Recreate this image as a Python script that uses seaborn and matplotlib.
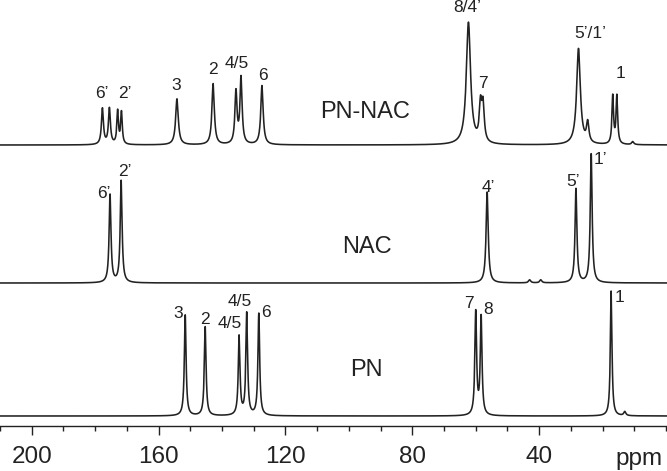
import numpy as np
import pandas as pd
import matplotlib
matplotlib.use("Agg")
import matplotlib.pyplot as plt
import seaborn as sns

# ---------------- data ----------------
# peak lists: chemical shift (ppm), intensity, line width (ppm FWHM)
pn_nac_ppm = [177.7, 175.5, 172.9, 171.7, 154.2, 142.8, 135.6, 134.0, 127.4,
              62.3, 58.5, 57.7, 27.6, 24.7, 16.8, 15.5, 10.5]
pn_nac_int = [36, 36, 33, 32, 46, 61, 52, 66, 59,
              122, 36, 36, 96, 20, 48, 48, 3]
pn_nac_fwhm = [0.75, 0.75, 0.6, 0.6, 1.0, 0.9, 0.8, 0.8, 0.9,
               1.6, 0.9, 0.9, 1.4, 0.9, 0.6, 0.6, 0.8]

nac_ppm = [175.3, 171.8, 56.4, 43.0, 39.5, 28.4, 23.6]
nac_int = [88, 102, 91, 3, 3, 94, 129]
nac_fwhm = [0.7, 0.7, 0.8, 0.8, 0.8, 0.7, 0.7]

pn_ppm = [151.6, 145.3, 134.6, 132.2, 128.4, 60.0, 58.3, 17.3, 13.0]
pn_int = [101, 89, 79, 102, 102, 103, 98, 125, 4]
pn_fwhm = [0.65, 0.65, 0.65, 0.65, 0.65, 0.65, 0.65, 0.6, 0.8]

trace_names = ["PN-NAC", "NAC", "PN"]

# peak assignment labels per trace
pn_nac_labels = ["6’", "2’", "3", "2", "4/5", "6", "8/4’", "7", "5’/1’", "1"]
nac_labels = ["6’", "2’", "4’", "5’", "1’"]
pn_labels = ["3", "2", "4/5", "4/5", "6", "7", "8", "1"]

tick_major = [200, 160, 120, 80, 40]
tick_minor = list(range(0, 211, 10))

# ---------------- layout / style (positions, not data) ----------------
offsets = {"PN-NAC": 281, "NAC": 143, "PN": 10}
label_pos = {
    "PN-NAC": [(177.8, 333), (170.6, 333), (154.5, 341), (142.8, 356), (135.2, 363),
               (127.0, 351), (62.7, 419), (57.7, 342), (24.0, 393), (14.5, 352)],
    "NAC": [(177.2, 233), (170.6, 255), (56.1, 239), (29.3, 244), (20.8, 267)],
    "PN": [(153.8, 112.5), (145.3, 107), (137.5, 102), (134.5, 125), (126.1, 113.5),
           (62.0, 122), (56.1, 116.5), (14.8, 128.5)],
}
name_pos = {"PN-NAC": (94.8, 313.5), "NAC": (94.2, 179), "PN": (94.4, 56)}

LINE = "#222222"


def spectrum(x, ppm, inten, fwhm):
    y = np.zeros_like(x)
    for p, h, w in zip(ppm, inten, fwhm):
        y += h / (1.0 + ((x - p) / (w / 2.0)) ** 2)
    return y


x = np.linspace(-0.3, 210.0, 7000)
peaks = {
    "PN-NAC": (pn_nac_ppm, pn_nac_int, pn_nac_fwhm),
    "NAC": (nac_ppm, nac_int, nac_fwhm),
    "PN": (pn_ppm, pn_int, pn_fwhm),
}
frames = []
for name in trace_names:
    p, h, w = peaks[name]
    frames.append(pd.DataFrame({"ppm": x,
                                "signal": spectrum(x, p, h, w) + offsets[name],
                                "trace": name}))
df = pd.concat(frames, ignore_index=True)

sns.set_style("ticks")
plt.rcParams["font.family"] = ["Liberation Sans", "DejaVu Sans"]

fig = plt.figure(figsize=(6.67, 4.71), dpi=100)
ax = fig.add_axes([0.0, 45 / 471, 1.0, 426 / 471])

sns.lineplot(data=df, x="ppm", y="signal", hue="trace", units="trace",
             estimator=None, palette={n: LINE for n in trace_names},
             linewidth=1.15, legend=False, ax=ax)

ax.set_xlim(210, -0.3)
ax.set_ylim(0, 426)
ax.set_xlabel("")
ax.set_ylabel("")
ax.set_yticks([])
for s in ["left", "right", "top"]:
    ax.spines[s].set_visible(False)
ax.spines["bottom"].set_color(LINE)
ax.spines["bottom"].set_linewidth(1.0)

ax.set_xticks(tick_major)
ax.set_xticklabels([str(t) for t in tick_major])
ax.set_xticks(tick_minor, minor=True)
ax.tick_params(axis="x", which="major", length=6.7, width=1.0, color=LINE,
               labelsize=17.5, labelcolor=LINE, pad=8)
ax.tick_params(axis="x", which="minor", length=3.6, width=1.0, color=LINE)

ax.annotate("ppm", xy=(8.5, 0), xycoords=("data", "axes fraction"),
            xytext=(0, -28), textcoords="offset points",
            ha="center", va="baseline", fontsize=17.5, color=LINE)

all_labels = {"PN-NAC": pn_nac_labels, "NAC": nac_labels, "PN": pn_labels}
for name in trace_names:
    for txt, (px, py) in zip(all_labels[name], label_pos[name]):
        ax.text(px, py, txt, ha="center", va="center", fontsize=12.5, color=LINE)
    nx, ny = name_pos[name]
    ax.text(nx, ny, name, ha="center", va="center", fontsize=17, color=LINE)

fig.savefig("out.png", dpi=100)
